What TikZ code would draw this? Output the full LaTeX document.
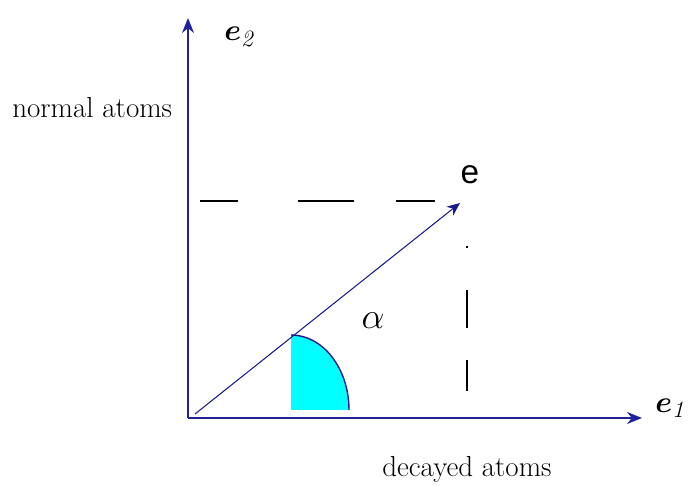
\documentclass[tikz,border=0pt]{standalone}
\usepackage{amsmath}
\usepackage{bm}
\usepackage{fontspec}
\newfontfamily\arialfont{Liberation Sans}
\usetikzlibrary{arrows.meta}
\definecolor{axisNavy}{HTML}{22229A}
\definecolor{tipBlue}{HTML}{1010E0}
\definecolor{vecNavy}{HTML}{1A1A8C}
\definecolor{fillCyan}{HTML}{00FFFF}

\begin{document}
\begin{tikzpicture}[
  axis/.style={draw=axisNavy, line width=1.1pt,
               -{Stealth[length=3mm, width=2.4mm, fill=tipBlue]}},
  vec/.style={draw=vecNavy, line width=0.6pt,
              -{Stealth[length=2.6mm, width=2.2mm, fill=vecNavy]}},
  guide/.style={draw=black, line width=0.8pt},
  lbl/.style={inner sep=0pt, text=black},
]
\useasboundingbox (0,0) rectangle (13.9,9.72);

% --- axes ---
\coordinate (O) at (3.76,1.36);
\coordinate (ytop) at (3.76,9.36);
\coordinate (xtip) at (12.84,1.36);
\draw[axis] (O) -- (ytop);
\draw[axis] (O) -- (xtip);

% --- the shaded angle, below the vector ---
\fill[fillCyan] (5.82,1.52) -- (5.82,3.02)
  arc[start angle=90, end angle=0, x radius=1.16, y radius=1.50] -- cycle;
\draw[draw=vecNavy, line width=0.8pt] (5.82,3.02)
  arc[start angle=90, end angle=0, x radius=1.16, y radius=1.50];

% --- vector e ---
\coordinate (vstart) at (3.90,1.44);
\coordinate (vtip) at (9.20,5.66);
\draw[vec] (vstart) -- (vtip);

% --- projections ---
\coordinate (hleft) at (4.00,5.70);
\coordinate (hright) at (8.70,5.70);
\draw[guide, dash pattern=on 0.76cm off 1.2cm on 1.12cm off 0.84cm on 0.78cm off 2cm]
  (hleft) -- (hright);
\coordinate (vtop) at (9.34,4.79);
\coordinate (vbot) at (9.34,1.90);
\draw[guide, dash pattern=on 0.03cm off 0.85cm on 0.76cm off 0.64cm on 0.62cm off 2cm]
  (vtop) -- (vbot);

% --- labels ---
\node[lbl] (e2) at (4.78,8.98) {\fontsize{19}{22}\selectfont $\bm{e}_{\mathit{2}}$};
\node[lbl] (e1) at (13.40,1.55) {\fontsize{19}{22}\selectfont $\bm{e}_{\mathit{1}}$};
\node[lbl] (e) at (9.40,6.22) {\fontsize{19}{22}\selectfont\arialfont e};
\node[lbl] (alpha) at (7.46,3.30) {\fontsize{22}{26}\selectfont $\alpha$};
\node[lbl, anchor=base west] (normal) at (0.24,7.36)
  {\fontsize{16.5}{19}\selectfont normal atoms};
\node[lbl, anchor=base west] (decayed) at (7.64,0.18)
  {\fontsize{16.5}{19}\selectfont decayed atoms};
\end{tikzpicture}
\end{document}
